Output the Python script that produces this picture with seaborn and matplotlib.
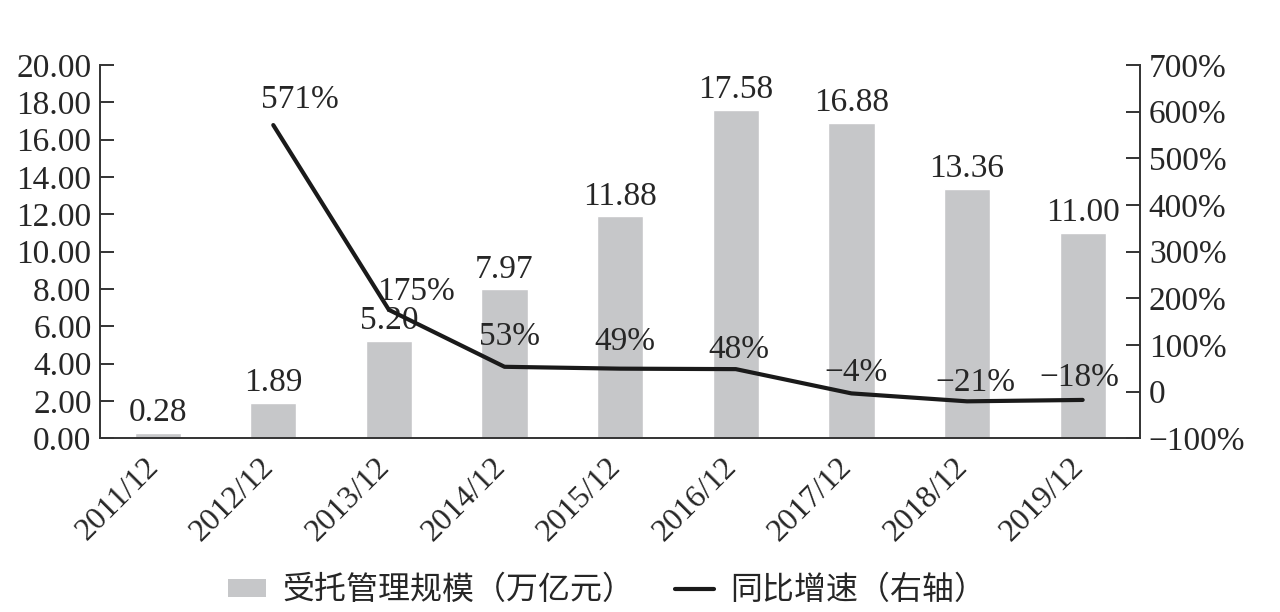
import matplotlib
matplotlib.use("Agg")
import matplotlib.pyplot as plt
from matplotlib.patches import Patch
from matplotlib.lines import Line2D
from matplotlib.ticker import FixedLocator
import seaborn as sns
import pandas as pd

# ---- data ----
periods = ["2011/12", "2012/12", "2013/12", "2014/12", "2015/12",
           "2016/12", "2017/12", "2018/12", "2019/12"]
scale = [0.28, 1.89, 5.20, 7.97, 11.88, 17.58, 16.88, 13.36, 11.00]   # 万亿元
growth = [None, 571, 175, 53, 49, 48, -4, -21, -18]                    # %
growth_labels = ["", "571%", "175%", "53%", "49%", "48%", "\u22124%", "\u221221%", "\u221218%"]

df = pd.DataFrame({"period": periods, "scale": scale, "growth": growth})
df["pos"] = range(len(df))

sns.set_style("white")
plt.rcParams["font.family"] = ["Liberation Serif", "Noto Sans CJK SC", "DejaVu Sans"]
plt.rcParams["axes.unicode_minus"] = True

FS = 24
fig = plt.figure(figsize=(12.8, 6.12), dpi=100)
ax = fig.add_axes([0.078, 0.284, 0.813, 0.610])

bar_color = "#c6c7c9"
sns.barplot(data=df, x="period", y="scale", color=bar_color, width=0.4,
            saturation=1, ax=ax)
ax.set_ylim(0, 20)
ax.set_xlim(-0.5, len(periods) - 0.5)
ax.set_yticks([i * 2 for i in range(11)])
ax.set_yticklabels([f"{i * 2:.2f}" for i in range(11)], fontsize=FS)
ax.set_xlabel("")
ax.set_ylabel("")

# bar value labels
for i, v in enumerate(scale):
    ax.text(i, v + 0.25, f"{v:.2f}", ha="center", va="bottom", fontsize=FS)

# x ticks: labels near category centers (invisible ticks), tick marks at boundaries
ax.set_xticks([i - 0.12 for i in range(len(periods))])
ax.set_xticklabels(periods, rotation=45, ha="right", rotation_mode="anchor",
                   fontsize=23)
ax.tick_params(axis="x", which="major", length=0, pad=10)
ax.xaxis.set_minor_locator(FixedLocator([i + 0.5 for i in range(len(periods) - 1)]))
ax.tick_params(axis="x", which="minor", direction="in", length=9, width=1.4,
               color="#333333")
ax.tick_params(axis="y", direction="in", length=10, width=1.4, color="#333333",
               left=True, pad=6)

for s in ["top", "right"]:
    ax.spines[s].set_visible(False)
for s in ["left", "bottom"]:
    ax.spines[s].set_color("#333333")
    ax.spines[s].set_linewidth(1.4)

# ---- right axis: growth ----
ax2 = ax.twinx()
line_df = df.dropna(subset=["growth"])
sns.lineplot(data=line_df, x="pos", y="growth", color="#1a1a1a", linewidth=3,
             ax=ax2)
ax2.set_ylim(-100, 700)
ax2.set_xlim(-0.5, len(periods) - 0.5)
rt = [-100, 0, 100, 200, 300, 400, 500, 600, 700]
ax2.set_yticks(rt)
ax2.set_yticklabels(["\u2212100%", "0"] + [f"{t}%" for t in rt[2:]], fontsize=FS)
ax2.set_ylabel("")
ax2.tick_params(axis="y", direction="in", length=10, width=1.4, color="#333333",
                right=True, pad=6)
for s in ["top", "left", "bottom"]:
    ax2.spines[s].set_visible(False)
ax2.spines["right"].set_color("#333333")
ax2.spines["right"].set_linewidth(1.4)

# growth labels
offsets = {1: (0.23, 54), 2: (0.23, 39), 3: (0.04, 65), 4: (0.04, 58),
           5: (0.03, 42), 6: (0.04, 45), 7: (0.07, 40), 8: (-0.03, 48)}
for i, g in enumerate(growth):
    if g is None:
        continue
    dx, dy = offsets[i]
    ax2.text(i + dx, g + dy, growth_labels[i], ha="center", va="center", fontsize=FS)

# ---- legend ----
handles = [Patch(facecolor=bar_color, edgecolor="none"),
           Line2D([0], [0], color="#1a1a1a", linewidth=3)]
labels = ["受托管理规模（万亿元）", "同比增速（右轴）"]
fig.legend(handles, labels, loc="center", bbox_to_anchor=(0.474, 0.036), ncol=2,
           frameon=False, prop={"family": ["Noto Sans CJK SC"], "size": 23},
           handlelength=1.2, handleheight=0.5, handletextpad=0.5, columnspacing=1.3)

fig.savefig("out.png", dpi=100)
